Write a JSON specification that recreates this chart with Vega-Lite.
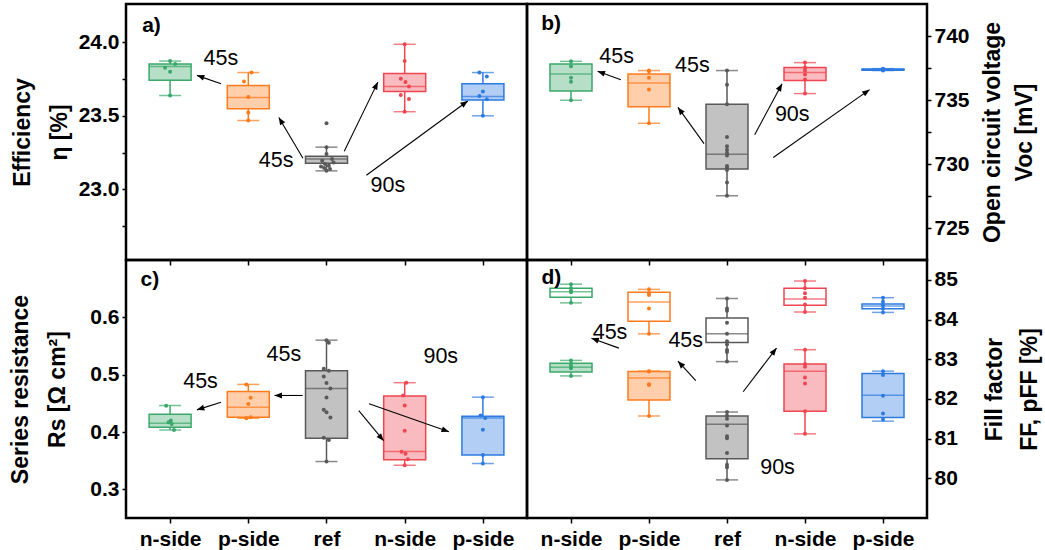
{
  "$schema": "https://vega.github.io/schema/vega-lite/v6.json",
  "padding": {"left": 7, "top": 2, "right": 4, "bottom": 0},
  "autosize": {"type": "pad"},
  "background": "white",
  "config": {
    "font": "Liberation Sans",
    "view": {"stroke": "black", "strokeWidth": 2.5},
    "axis": {"domain": false, "grid": false, "tickColor": "black", "tickWidth": 1.5, "tickSize": 5, "labelFont": "Liberation Sans", "labelFontSize": 21, "labelFontWeight": "bold", "labelColor": "black", "titleFont": "Liberation Sans", "titleFontSize": 23, "titleFontWeight": "bold", "titleColor": "black", "titleLineHeight": 34, "labelPadding": 3}
  },
  "datasets": {
    "boxes": [
      {"p":"a","g":"n45","x":1,"f":"filled","lo":23.638,"q1":23.741,"med":23.835,"q3":23.853,"hi":23.872},
      {"p":"a","g":"p45","x":2,"f":"filled","lo":23.468,"q1":23.548,"med":23.624,"q3":23.706,"hi":23.794},
      {"p":"a","g":"ref","x":3,"f":"filled","lo":23.126,"q1":23.177,"med":23.206,"q3":23.225,"hi":23.287},
      {"p":"a","g":"n90","x":4,"f":"filled","lo":23.528,"q1":23.665,"med":23.70,"q3":23.787,"hi":23.986},
      {"p":"a","g":"p90","x":5,"f":"filled","lo":23.50,"q1":23.608,"med":23.631,"q3":23.718,"hi":23.794},
      {"p":"b","g":"n45","x":1,"f":"filled","lo":734.98,"q1":735.70,"med":737.04,"q3":737.81,"hi":738.02},
      {"p":"b","g":"p45","x":2,"f":"filled","lo":733.18,"q1":734.47,"med":736.32,"q3":737.04,"hi":737.30},
      {"p":"b","g":"ref","x":3,"f":"filled","lo":727.52,"q1":729.61,"med":730.76,"q3":734.67,"hi":737.30},
      {"p":"b","g":"n90","x":4,"f":"filled","lo":735.50,"q1":736.53,"med":737.14,"q3":737.53,"hi":737.92},
      {"p":"b","g":"p90","x":5,"f":"filled","lo":737.30,"q1":737.33,"med":737.38,"q3":737.43,"hi":737.45},
      {"p":"c","g":"n45","x":1,"f":"filled","lo":0.4035,"q1":0.4082,"med":0.4152,"q3":0.431,"hi":0.4462},
      {"p":"c","g":"p45","x":2,"f":"filled","lo":0.424,"q1":0.4257,"med":0.4433,"q3":0.4708,"hi":0.483},
      {"p":"c","g":"ref","x":3,"f":"filled","lo":0.3485,"q1":0.3889,"med":0.476,"q3":0.507,"hi":0.5602},
      {"p":"c","g":"n90","x":4,"f":"filled","lo":0.342,"q1":0.3515,"med":0.366,"q3":0.4626,"hi":0.486},
      {"p":"c","g":"p90","x":5,"f":"filled","lo":0.345,"q1":0.3597,"med":0.4246,"q3":0.4275,"hi":0.4608},
      {"p":"d","g":"n45","x":1,"f":"open","lo":84.42,"q1":84.56,"med":84.70,"q3":84.79,"hi":84.89},
      {"p":"d","g":"n45","x":1,"f":"filled","lo":82.58,"q1":82.68,"med":82.80,"q3":82.90,"hi":82.97},
      {"p":"d","g":"p45","x":2,"f":"open","lo":83.64,"q1":83.96,"med":84.44,"q3":84.69,"hi":84.76},
      {"p":"d","g":"p45","x":2,"f":"filled","lo":81.57,"q1":81.97,"med":82.53,"q3":82.69,"hi":82.70},
      {"p":"d","g":"ref","x":3,"f":"open","lo":82.94,"q1":83.42,"med":83.64,"q3":84.04,"hi":84.53},
      {"p":"d","g":"ref","x":3,"f":"filled","lo":79.96,"q1":80.49,"med":81.36,"q3":81.57,"hi":81.67},
      {"p":"d","g":"n90","x":4,"f":"open","lo":84.19,"q1":84.36,"med":84.52,"q3":84.79,"hi":84.97},
      {"p":"d","g":"n90","x":4,"f":"filled","lo":81.12,"q1":81.69,"med":82.70,"q3":82.88,"hi":83.24},
      {"p":"d","g":"p90","x":5,"f":"open","lo":84.18,"q1":84.27,"med":84.34,"q3":84.39,"hi":84.55},
      {"p":"d","g":"p90","x":5,"f":"filled","lo":81.44,"q1":81.53,"med":82.09,"q3":82.64,"hi":82.70}
    ],
    "pts": [
      {"p":"a","g":"n45","x":1,"v":23.872},{"p":"a","g":"n45","x":1.065,"v":23.853},{"p":"a","g":"n45","x":0.935,"v":23.826},{"p":"a","g":"n45","x":1,"v":23.80},{"p":"a","g":"n45","x":1,"v":23.638},
      {"p":"a","g":"p45","x":2.04,"v":23.794},{"p":"a","g":"p45","x":1.945,"v":23.734},{"p":"a","g":"p45","x":2,"v":23.628},{"p":"a","g":"p45","x":2,"v":23.523},{"p":"a","g":"p45","x":2,"v":23.468},
      {"p":"a","g":"ref","x":3,"v":23.45},{"p":"a","g":"ref","x":3,"v":23.287},{"p":"a","g":"ref","x":3,"v":23.24},{"p":"a","g":"ref","x":3.07,"v":23.206},{"p":"a","g":"ref","x":2.945,"v":23.195},{"p":"a","g":"ref","x":3.09,"v":23.183},{"p":"a","g":"ref","x":2.98,"v":23.172},{"p":"a","g":"ref","x":3.03,"v":23.16},{"p":"a","g":"ref","x":2.93,"v":23.156},{"p":"a","g":"ref","x":2.97,"v":23.145},{"p":"a","g":"ref","x":3.045,"v":23.138},{"p":"a","g":"ref","x":3,"v":23.126},
      {"p":"a","g":"n90","x":4,"v":23.986},{"p":"a","g":"n90","x":4,"v":23.872},{"p":"a","g":"n90","x":3.95,"v":23.752},{"p":"a","g":"n90","x":4.01,"v":23.73},{"p":"a","g":"n90","x":4.055,"v":23.70},{"p":"a","g":"n90","x":3.95,"v":23.642},{"p":"a","g":"n90","x":4.055,"v":23.615},{"p":"a","g":"n90","x":4,"v":23.528},
      {"p":"a","g":"p90","x":4.955,"v":23.794},{"p":"a","g":"p90","x":5.05,"v":23.768},{"p":"a","g":"p90","x":5,"v":23.665},{"p":"a","g":"p90","x":4.955,"v":23.635},{"p":"a","g":"p90","x":5.05,"v":23.612},{"p":"a","g":"p90","x":5,"v":23.50},
      {"p":"b","g":"n45","x":1,"v":738.02},{"p":"b","g":"n45","x":1,"v":737.63},{"p":"b","g":"n45","x":1,"v":736.73},{"p":"b","g":"n45","x":1,"v":736.42},{"p":"b","g":"n45","x":1,"v":734.98},
      {"p":"b","g":"p45","x":2,"v":737.3},{"p":"b","g":"p45","x":2,"v":737.25},{"p":"b","g":"p45","x":2,"v":736.73},{"p":"b","g":"p45","x":2,"v":735.83},{"p":"b","g":"p45","x":2,"v":733.18},
      {"p":"b","g":"ref","x":3,"v":737.3},{"p":"b","g":"ref","x":3,"v":736.19},{"p":"b","g":"ref","x":3,"v":734.67},{"p":"b","g":"ref","x":3,"v":732.1},{"p":"b","g":"ref","x":3,"v":731.38},{"p":"b","g":"ref","x":3,"v":731.12},{"p":"b","g":"ref","x":3,"v":730.87},{"p":"b","g":"ref","x":3,"v":730.66},{"p":"b","g":"ref","x":3,"v":729.84},{"p":"b","g":"ref","x":3,"v":729.71},{"p":"b","g":"ref","x":3,"v":729.53},{"p":"b","g":"ref","x":3,"v":728.55},{"p":"b","g":"ref","x":3,"v":727.52},
      {"p":"b","g":"n90","x":4,"v":737.92},{"p":"b","g":"n90","x":4,"v":737.53},{"p":"b","g":"n90","x":4,"v":737.3},{"p":"b","g":"n90","x":4,"v":736.99},{"p":"b","g":"n90","x":4,"v":736.6},{"p":"b","g":"n90","x":4,"v":735.5},
      {"p":"b","g":"p90","x":5,"v":737.45},{"p":"b","g":"p90","x":5,"v":737.4},{"p":"b","g":"p90","x":5,"v":737.38},{"p":"b","g":"p90","x":5,"v":737.35},{"p":"b","g":"p90","x":5,"v":737.3},
      {"p":"c","g":"n45","x":0.95,"v":0.446},{"p":"c","g":"n45","x":1.01,"v":0.42},{"p":"c","g":"n45","x":0.98,"v":0.417},{"p":"c","g":"n45","x":1.02,"v":0.414},{"p":"c","g":"n45","x":1.05,"v":0.4035},
      {"p":"c","g":"p45","x":1.975,"v":0.483},{"p":"c","g":"p45","x":2.03,"v":0.4596},{"p":"c","g":"p45","x":2,"v":0.449},{"p":"c","g":"p45","x":2.03,"v":0.4257},{"p":"c","g":"p45","x":1.975,"v":0.424},
      {"p":"c","g":"ref","x":3,"v":0.56},{"p":"c","g":"ref","x":3.03,"v":0.5556},{"p":"c","g":"ref","x":2.965,"v":0.5105},{"p":"c","g":"ref","x":3.03,"v":0.507},{"p":"c","g":"ref","x":2.965,"v":0.497},{"p":"c","g":"ref","x":3,"v":0.4854},{"p":"c","g":"ref","x":3.05,"v":0.476},{"p":"c","g":"ref","x":3,"v":0.4602},{"p":"c","g":"ref","x":2.965,"v":0.4386},{"p":"c","g":"ref","x":3,"v":0.4345},{"p":"c","g":"ref","x":3.05,"v":0.4251},{"p":"c","g":"ref","x":2.965,"v":0.39},{"p":"c","g":"ref","x":3.03,"v":0.386},{"p":"c","g":"ref","x":3,"v":0.3485},
      {"p":"c","g":"n90","x":4.02,"v":0.486},{"p":"c","g":"n90","x":3.98,"v":0.4637},{"p":"c","g":"n90","x":4,"v":0.4462},{"p":"c","g":"n90","x":4,"v":0.4023},{"p":"c","g":"n90","x":3.96,"v":0.3655},{"p":"c","g":"n90","x":4.01,"v":0.362},{"p":"c","g":"n90","x":4.04,"v":0.3526},{"p":"c","g":"n90","x":4,"v":0.342},
      {"p":"c","g":"p90","x":5,"v":0.4608},{"p":"c","g":"p90","x":4.97,"v":0.4287},{"p":"c","g":"p90","x":5.03,"v":0.4246},{"p":"c","g":"p90","x":5,"v":0.404},{"p":"c","g":"p90","x":5,"v":0.3597},{"p":"c","g":"p90","x":5,"v":0.345},
      {"p":"d","g":"n45","x":1,"v":84.89},{"p":"d","g":"n45","x":1,"v":84.79},{"p":"d","g":"n45","x":1,"v":84.72},{"p":"d","g":"n45","x":1,"v":84.69},{"p":"d","g":"n45","x":1,"v":84.42},
      {"p":"d","g":"n45","x":1,"v":82.97},{"p":"d","g":"n45","x":1,"v":82.88},{"p":"d","g":"n45","x":1,"v":82.82},{"p":"d","g":"n45","x":1,"v":82.77},{"p":"d","g":"n45","x":1,"v":82.58},
      {"p":"d","g":"p45","x":2,"v":84.76},{"p":"d","g":"p45","x":2,"v":84.66},{"p":"d","g":"p45","x":2,"v":84.62},{"p":"d","g":"p45","x":2,"v":84.28},{"p":"d","g":"p45","x":2,"v":83.64},
      {"p":"d","g":"p45","x":2,"v":82.70},{"p":"d","g":"p45","x":2,"v":82.69},{"p":"d","g":"p45","x":2,"v":82.37},{"p":"d","g":"p45","x":2,"v":82.35},{"p":"d","g":"p45","x":2,"v":81.57},
      {"p":"d","g":"ref","x":3,"v":84.53},{"p":"d","g":"ref","x":3,"v":84.28},{"p":"d","g":"ref","x":3,"v":84.22},{"p":"d","g":"ref","x":3,"v":83.92},{"p":"d","g":"ref","x":3,"v":83.64},{"p":"d","g":"ref","x":3,"v":83.45},{"p":"d","g":"ref","x":3,"v":83.37},{"p":"d","g":"ref","x":3,"v":83.23},{"p":"d","g":"ref","x":3,"v":83.18},{"p":"d","g":"ref","x":3,"v":82.94},
      {"p":"d","g":"ref","x":3,"v":81.67},{"p":"d","g":"ref","x":3,"v":81.58},{"p":"d","g":"ref","x":3,"v":81.50},{"p":"d","g":"ref","x":3,"v":81.33},{"p":"d","g":"ref","x":3,"v":81.06},{"p":"d","g":"ref","x":3,"v":81.01},{"p":"d","g":"ref","x":3,"v":80.64},{"p":"d","g":"ref","x":3,"v":80.34},{"p":"d","g":"ref","x":3,"v":80.28},{"p":"d","g":"ref","x":3,"v":79.96},
      {"p":"d","g":"n90","x":4,"v":84.97},{"p":"d","g":"n90","x":4,"v":84.79},{"p":"d","g":"n90","x":4,"v":84.66},{"p":"d","g":"n90","x":4,"v":84.55},{"p":"d","g":"n90","x":4,"v":84.38},{"p":"d","g":"n90","x":4,"v":84.19},
      {"p":"d","g":"n90","x":4,"v":83.24},{"p":"d","g":"n90","x":4,"v":82.88},{"p":"d","g":"n90","x":4,"v":82.81},{"p":"d","g":"n90","x":4,"v":82.54},{"p":"d","g":"n90","x":4,"v":82.39},{"p":"d","g":"n90","x":4,"v":81.69},{"p":"d","g":"n90","x":4,"v":81.12},
      {"p":"d","g":"p90","x":5,"v":84.55},{"p":"d","g":"p90","x":5,"v":84.45},{"p":"d","g":"p90","x":5,"v":84.36},{"p":"d","g":"p90","x":5,"v":84.28},{"p":"d","g":"p90","x":5,"v":84.18},
      {"p":"d","g":"p90","x":5,"v":82.70},{"p":"d","g":"p90","x":5,"v":82.60},{"p":"d","g":"p90","x":5,"v":82.08},{"p":"d","g":"p90","x":5,"v":81.63},{"p":"d","g":"p90","x":5,"v":81.48}
    ],
    "arrows": [
      {"p":"a","x":1.651,"y":23.718,"x2":1.3425,"y2":23.775},
      {"p":"a","x":2.699,"y":23.211,"x2":2.39,"y2":23.489},
      {"p":"a","x":3.227,"y":23.259,"x2":3.657,"y2":23.729},
      {"p":"a","x":3.51,"y":23.096,"x2":4.807,"y2":23.601},
      {"p":"b","x":1.639,"y":736.58,"x2":1.341,"y2":737.25},
      {"p":"b","x":2.706,"y":731.59,"x2":2.371,"y2":734.42},
      {"p":"b","x":3.355,"y":732.28,"x2":3.706,"y2":736.27},
      {"p":"b","x":3.593,"y":730.51,"x2":4.828,"y2":735.81},
      {"p":"c","x":1.651,"y":0.452,"x2":1.3425,"y2":0.4386},
      {"p":"c","x":2.695,"y":0.4637,"x2":2.335,"y2":0.4637},
      {"p":"c","x":3.4125,"y":0.4374,"x2":3.73,"y2":0.3848},
      {"p":"c","x":3.544,"y":0.4491,"x2":4.566,"y2":0.4006},
      {"p":"d","x":1.614,"y":83.28,"x2":1.2625,"y2":83.53},
      {"p":"d","x":2.6,"y":82.46,"x2":2.371,"y2":82.95},
      {"p":"d","x":3.2075,"y":82.18,"x2":3.635,"y2":83.28}
    ],
    "notes": [
      {"p":"a","t":"45s","x":1.65,"y":23.883},{"p":"a","t":"45s","x":2.356,"y":23.195},{"p":"a","t":"90s","x":3.785,"y":23.023},
      {"p":"b","t":"45s","x":1.584,"y":738.33},{"p":"b","t":"45s","x":2.555,"y":737.63},{"p":"b","t":"90s","x":3.836,"y":733.83},
      {"p":"c","t":"45s","x":1.389,"y":0.4871},{"p":"c","t":"45s","x":2.454,"y":0.5339},{"p":"c","t":"90s","x":4.461,"y":0.531},
      {"p":"d","t":"45s","x":1.5,"y":83.67},{"p":"d","t":"45s","x":2.471,"y":83.46},{"p":"d","t":"90s","x":3.6475,"y":80.25}
    ],
    "tags": [
      {"p":"a","t":"a)","x":0.7625,"y":24.112},
      {"p":"b","t":"b)","x":0.746,"y":740.92},
      {"p":"c","t":"c)","x":0.7425,"y":0.6646},
      {"p":"d","t":"d)","x":0.7475,"y":85.04}
    ]
  },
  "columns": 2,
  "spacing": 0,
  "bounds": "flush",
  "concat": [
        {
          "width": 401, "height": 256,
          "layer": [
            {"data":{"name":"boxes"},"transform":[{"filter":"datum.p=='a'"}],"mark":{"type":"rule","strokeWidth":1.5},
             "encoding":{
               "x":{"field":"x","type":"quantitative","scale":{"domain":[0.5,5.5],"nice":false,"zero":false},"axis":{"values":[1,2,3,4,5],"labels":false,"title":null}},
               "y":{"field":"hi","type":"quantitative","scale":{"domain":[22.52,24.26],"nice":false,"zero":false},"axis":{"orient":"left","values":[22.75,23,23.25,23.5,23.75,24],"labelExpr":"(datum.value*2)%1==0 ? format(datum.value,'.1f') : ''","tickSize":4,"title":["Efficiency","η [%]"],"titleAngle":270,"titleX":-104,"titleLineHeight":37,"titleBaseline":"middle","titleAlign":"center"}},
               "y2":{"field":"q3"},
               "color":{"field":"g","type":"nominal","scale":{"domain":["n45","p45","ref","n90","p90"],"range":["#3ba86b","#ff7b1c","#595959","#ef4651","#2d7be1"]},"legend":null}}},
            {"data":{"name":"boxes"},"transform":[{"filter":"datum.p=='a'"}],"mark":{"type":"rule","strokeWidth":1.5},
             "encoding":{"x":{"field":"x","type":"quantitative"},"y":{"field":"lo","type":"quantitative"},"y2":{"field":"q1"},
               "color":{"field":"g","type":"nominal","scale":{"domain":["n45","p45","ref","n90","p90"],"range":["#3ba86b","#ff7b1c","#595959","#ef4651","#2d7be1"]},"legend":null}}},
            {"data":{"name":"boxes"},"transform":[{"filter":"datum.p=='a'"}],"mark":{"type":"bar","width":42,"strokeWidth":1.5},
             "encoding":{"x":{"field":"x","type":"quantitative"},"y":{"field":"q1","type":"quantitative"},"y2":{"field":"q3"},
               "fill":{"field":"g","type":"nominal","scale":{"domain":["n45","p45","ref","n90","p90"],"range":["#3ba86b","#ff7b1c","#595959","#ef4651","#2d7be1"]},"legend":null},
               "stroke":{"field":"g","type":"nominal","scale":{"domain":["n45","p45","ref","n90","p90"],"range":["#3ba86b","#ff7b1c","#595959","#ef4651","#2d7be1"]},"legend":null},
               "fillOpacity":{"field":"f","type":"nominal","scale":{"domain":["filled","open"],"range":[0.37,0]},"legend":null}}},
            {"data":{"name":"boxes"},"transform":[{"filter":"datum.p=='a'"}],"mark":{"type":"tick","orient":"horizontal","size":42,"thickness":1.5},
             "encoding":{"x":{"field":"x","type":"quantitative"},"y":{"field":"med","type":"quantitative"},
               "color":{"field":"g","type":"nominal","scale":{"domain":["n45","p45","ref","n90","p90"],"range":["#3ba86b","#ff7b1c","#595959","#ef4651","#2d7be1"]},"legend":null}}},
            {"data":{"name":"boxes"},"transform":[{"filter":"datum.p=='a'"}],"mark":{"type":"tick","orient":"horizontal","size":22,"thickness":1.5},
             "encoding":{"x":{"field":"x","type":"quantitative"},"y":{"field":"hi","type":"quantitative"},
               "color":{"field":"g","type":"nominal","scale":{"domain":["n45","p45","ref","n90","p90"],"range":["#3ba86b","#ff7b1c","#595959","#ef4651","#2d7be1"]},"legend":null}}},
            {"data":{"name":"boxes"},"transform":[{"filter":"datum.p=='a'"}],"mark":{"type":"tick","orient":"horizontal","size":22,"thickness":1.5},
             "encoding":{"x":{"field":"x","type":"quantitative"},"y":{"field":"lo","type":"quantitative"},
               "color":{"field":"g","type":"nominal","scale":{"domain":["n45","p45","ref","n90","p90"],"range":["#3ba86b","#ff7b1c","#595959","#ef4651","#2d7be1"]},"legend":null}}},
            {"data":{"name":"pts"},"transform":[{"filter":"datum.p=='a'"}],"mark":{"type":"point","filled":true,"size":16,"opacity":1},
             "encoding":{"x":{"field":"x","type":"quantitative"},"y":{"field":"v","type":"quantitative"},
               "color":{"field":"g","type":"nominal","scale":{"domain":["n45","p45","ref","n90","p90"],"range":["#3ba86b","#ff7b1c","#595959","#ef4651","#2d7be1"]},"legend":null}}},
            {"data":{"name":"arrows"},"transform":[{"filter":"datum.p=='a'"}],"mark":{"type":"rule","strokeWidth":1.1,"color":"black"},
             "encoding":{"x":{"field":"x","type":"quantitative"},"y":{"field":"y","type":"quantitative"},"x2":{"field":"x2"},"y2":{"field":"y2"}}},
            {"data":{"name":"arrows"},"transform":[{"filter":"datum.p=='a'"},{"calculate":"atan2((datum.x2-datum.x)*80,(datum.y2-datum.y)*147.1)*180/PI","as":"ang"}],"mark":{"type":"point","filled":true,"color":"black","opacity":1,"shape":"M0,0L-0.4,1L0.4,1Z","size":220},
             "encoding":{"x":{"field":"x2","type":"quantitative"},"y":{"field":"y2","type":"quantitative"},"angle":{"field":"ang","type":"quantitative","scale":null}}},
            {"data":{"name":"notes"},"transform":[{"filter":"datum.p=='a'"}],"mark":{"type":"text","fontSize":21.5,"color":"black","align":"center","baseline":"middle"},
             "encoding":{"x":{"field":"x","type":"quantitative"},"y":{"field":"y","type":"quantitative"},"text":{"field":"t"}}},
            {"data":{"name":"tags"},"transform":[{"filter":"datum.p=='a'"}],"mark":{"type":"text","fontSize":21,"fontWeight":"bold","color":"black","align":"center","baseline":"middle"},
             "encoding":{"x":{"field":"x","type":"quantitative"},"y":{"field":"y","type":"quantitative"},"text":{"field":"t"}}}
          ]
        },
        {
          "width": 400, "height": 256,
          "layer": [
            {"data":{"name":"boxes"},"transform":[{"filter":"datum.p=='b'"}],"mark":{"type":"rule","strokeWidth":1.5},
             "encoding":{
               "x":{"field":"x","type":"quantitative","scale":{"domain":[0.5,5.5],"nice":false,"zero":false},"axis":{"values":[1,2,3,4,5],"labels":false,"title":null}},
               "y":{"field":"hi","type":"quantitative","scale":{"domain":[722.5,742.5],"nice":false,"zero":false},"axis":{"orient":"right","values":[725,727.5,730,732.5,735,737.5,740],"labelExpr":"datum.value%5==0 ? format(datum.value,'d') : ''","tickSize":4,"title":["Open circuit voltage","Voc [mV]"],"titleAngle":270,"titleX":65,"titleLineHeight":32,"titleBaseline":"middle","titleAlign":"center"}},
               "y2":{"field":"q3"},
               "color":{"field":"g","type":"nominal","scale":{"domain":["n45","p45","ref","n90","p90"],"range":["#3ba86b","#ff7b1c","#595959","#ef4651","#2d7be1"]},"legend":null}}},
            {"data":{"name":"boxes"},"transform":[{"filter":"datum.p=='b'"}],"mark":{"type":"rule","strokeWidth":1.5},
             "encoding":{"x":{"field":"x","type":"quantitative"},"y":{"field":"lo","type":"quantitative"},"y2":{"field":"q1"},
               "color":{"field":"g","type":"nominal","scale":{"domain":["n45","p45","ref","n90","p90"],"range":["#3ba86b","#ff7b1c","#595959","#ef4651","#2d7be1"]},"legend":null}}},
            {"data":{"name":"boxes"},"transform":[{"filter":"datum.p=='b'"}],"mark":{"type":"bar","width":42,"strokeWidth":1.5},
             "encoding":{"x":{"field":"x","type":"quantitative"},"y":{"field":"q1","type":"quantitative"},"y2":{"field":"q3"},
               "fill":{"field":"g","type":"nominal","scale":{"domain":["n45","p45","ref","n90","p90"],"range":["#3ba86b","#ff7b1c","#595959","#ef4651","#2d7be1"]},"legend":null},
               "stroke":{"field":"g","type":"nominal","scale":{"domain":["n45","p45","ref","n90","p90"],"range":["#3ba86b","#ff7b1c","#595959","#ef4651","#2d7be1"]},"legend":null},
               "fillOpacity":{"field":"f","type":"nominal","scale":{"domain":["filled","open"],"range":[0.37,0]},"legend":null}}},
            {"data":{"name":"boxes"},"transform":[{"filter":"datum.p=='b'"}],"mark":{"type":"tick","orient":"horizontal","size":42,"thickness":1.5},
             "encoding":{"x":{"field":"x","type":"quantitative"},"y":{"field":"med","type":"quantitative"},
               "color":{"field":"g","type":"nominal","scale":{"domain":["n45","p45","ref","n90","p90"],"range":["#3ba86b","#ff7b1c","#595959","#ef4651","#2d7be1"]},"legend":null}}},
            {"data":{"name":"boxes"},"transform":[{"filter":"datum.p=='b'"}],"mark":{"type":"tick","orient":"horizontal","size":22,"thickness":1.5},
             "encoding":{"x":{"field":"x","type":"quantitative"},"y":{"field":"hi","type":"quantitative"},
               "color":{"field":"g","type":"nominal","scale":{"domain":["n45","p45","ref","n90","p90"],"range":["#3ba86b","#ff7b1c","#595959","#ef4651","#2d7be1"]},"legend":null}}},
            {"data":{"name":"boxes"},"transform":[{"filter":"datum.p=='b'"}],"mark":{"type":"tick","orient":"horizontal","size":22,"thickness":1.5},
             "encoding":{"x":{"field":"x","type":"quantitative"},"y":{"field":"lo","type":"quantitative"},
               "color":{"field":"g","type":"nominal","scale":{"domain":["n45","p45","ref","n90","p90"],"range":["#3ba86b","#ff7b1c","#595959","#ef4651","#2d7be1"]},"legend":null}}},
            {"data":{"name":"pts"},"transform":[{"filter":"datum.p=='b'"}],"mark":{"type":"point","filled":true,"size":16,"opacity":1},
             "encoding":{"x":{"field":"x","type":"quantitative"},"y":{"field":"v","type":"quantitative"},
               "color":{"field":"g","type":"nominal","scale":{"domain":["n45","p45","ref","n90","p90"],"range":["#3ba86b","#ff7b1c","#595959","#ef4651","#2d7be1"]},"legend":null}}},
            {"data":{"name":"arrows"},"transform":[{"filter":"datum.p=='b'"}],"mark":{"type":"rule","strokeWidth":1.1,"color":"black"},
             "encoding":{"x":{"field":"x","type":"quantitative"},"y":{"field":"y","type":"quantitative"},"x2":{"field":"x2"},"y2":{"field":"y2"}}},
            {"data":{"name":"arrows"},"transform":[{"filter":"datum.p=='b'"},{"calculate":"atan2((datum.x2-datum.x)*80,(datum.y2-datum.y)*12.8)*180/PI","as":"ang"}],"mark":{"type":"point","filled":true,"color":"black","opacity":1,"shape":"M0,0L-0.4,1L0.4,1Z","size":220},
             "encoding":{"x":{"field":"x2","type":"quantitative"},"y":{"field":"y2","type":"quantitative"},"angle":{"field":"ang","type":"quantitative","scale":null}}},
            {"data":{"name":"notes"},"transform":[{"filter":"datum.p=='b'"}],"mark":{"type":"text","fontSize":21.5,"color":"black","align":"center","baseline":"middle"},
             "encoding":{"x":{"field":"x","type":"quantitative"},"y":{"field":"y","type":"quantitative"},"text":{"field":"t"}}},
            {"data":{"name":"tags"},"transform":[{"filter":"datum.p=='b'"}],"mark":{"type":"text","fontSize":21,"fontWeight":"bold","color":"black","align":"center","baseline":"middle"},
             "encoding":{"x":{"field":"x","type":"quantitative"},"y":{"field":"y","type":"quantitative"},"text":{"field":"t"}}}
          ]
        },
        {
          "width": 401, "height": 258,
          "layer": [
            {"data":{"name":"boxes"},"transform":[{"filter":"datum.p=='c'"}],"mark":{"type":"rule","strokeWidth":1.5},
             "encoding":{
               "x":{"field":"x","type":"quantitative","scale":{"domain":[0.5,5.5],"nice":false,"zero":false},"axis":{"values":[1,2,3,4,5],"labelExpr":"['n-side','p-side','ref','n-side','p-side'][datum.value-1]","labelPadding":5,"title":null}},
               "y":{"field":"hi","type":"quantitative","scale":{"domain":[0.25,0.70],"nice":false,"zero":false},"axis":{"orient":"left","values":[0.3,0.4,0.5,0.6],"format":".1f","tickSize":4,"title":["Series resistance","Rs [Ω cm²]"],"titleAngle":270,"titleX":-106,"titleLineHeight":37,"titleBaseline":"middle","titleAlign":"center"}},
               "y2":{"field":"q3"},
               "color":{"field":"g","type":"nominal","scale":{"domain":["n45","p45","ref","n90","p90"],"range":["#3ba86b","#ff7b1c","#595959","#ef4651","#2d7be1"]},"legend":null}}},
            {"data":{"name":"boxes"},"transform":[{"filter":"datum.p=='c'"}],"mark":{"type":"rule","strokeWidth":1.5},
             "encoding":{"x":{"field":"x","type":"quantitative"},"y":{"field":"lo","type":"quantitative"},"y2":{"field":"q1"},
               "color":{"field":"g","type":"nominal","scale":{"domain":["n45","p45","ref","n90","p90"],"range":["#3ba86b","#ff7b1c","#595959","#ef4651","#2d7be1"]},"legend":null}}},
            {"data":{"name":"boxes"},"transform":[{"filter":"datum.p=='c'"}],"mark":{"type":"bar","width":42,"strokeWidth":1.5},
             "encoding":{"x":{"field":"x","type":"quantitative"},"y":{"field":"q1","type":"quantitative"},"y2":{"field":"q3"},
               "fill":{"field":"g","type":"nominal","scale":{"domain":["n45","p45","ref","n90","p90"],"range":["#3ba86b","#ff7b1c","#595959","#ef4651","#2d7be1"]},"legend":null},
               "stroke":{"field":"g","type":"nominal","scale":{"domain":["n45","p45","ref","n90","p90"],"range":["#3ba86b","#ff7b1c","#595959","#ef4651","#2d7be1"]},"legend":null},
               "fillOpacity":{"field":"f","type":"nominal","scale":{"domain":["filled","open"],"range":[0.37,0]},"legend":null}}},
            {"data":{"name":"boxes"},"transform":[{"filter":"datum.p=='c'"}],"mark":{"type":"tick","orient":"horizontal","size":42,"thickness":1.5},
             "encoding":{"x":{"field":"x","type":"quantitative"},"y":{"field":"med","type":"quantitative"},
               "color":{"field":"g","type":"nominal","scale":{"domain":["n45","p45","ref","n90","p90"],"range":["#3ba86b","#ff7b1c","#595959","#ef4651","#2d7be1"]},"legend":null}}},
            {"data":{"name":"boxes"},"transform":[{"filter":"datum.p=='c'"}],"mark":{"type":"tick","orient":"horizontal","size":22,"thickness":1.5},
             "encoding":{"x":{"field":"x","type":"quantitative"},"y":{"field":"hi","type":"quantitative"},
               "color":{"field":"g","type":"nominal","scale":{"domain":["n45","p45","ref","n90","p90"],"range":["#3ba86b","#ff7b1c","#595959","#ef4651","#2d7be1"]},"legend":null}}},
            {"data":{"name":"boxes"},"transform":[{"filter":"datum.p=='c'"}],"mark":{"type":"tick","orient":"horizontal","size":22,"thickness":1.5},
             "encoding":{"x":{"field":"x","type":"quantitative"},"y":{"field":"lo","type":"quantitative"},
               "color":{"field":"g","type":"nominal","scale":{"domain":["n45","p45","ref","n90","p90"],"range":["#3ba86b","#ff7b1c","#595959","#ef4651","#2d7be1"]},"legend":null}}},
            {"data":{"name":"pts"},"transform":[{"filter":"datum.p=='c'"}],"mark":{"type":"point","filled":true,"size":16,"opacity":1},
             "encoding":{"x":{"field":"x","type":"quantitative"},"y":{"field":"v","type":"quantitative"},
               "color":{"field":"g","type":"nominal","scale":{"domain":["n45","p45","ref","n90","p90"],"range":["#3ba86b","#ff7b1c","#595959","#ef4651","#2d7be1"]},"legend":null}}},
            {"data":{"name":"arrows"},"transform":[{"filter":"datum.p=='c'"}],"mark":{"type":"rule","strokeWidth":1.1,"color":"black"},
             "encoding":{"x":{"field":"x","type":"quantitative"},"y":{"field":"y","type":"quantitative"},"x2":{"field":"x2"},"y2":{"field":"y2"}}},
            {"data":{"name":"arrows"},"transform":[{"filter":"datum.p=='c'"},{"calculate":"atan2((datum.x2-datum.x)*80,(datum.y2-datum.y)*573.3)*180/PI","as":"ang"}],"mark":{"type":"point","filled":true,"color":"black","opacity":1,"shape":"M0,0L-0.4,1L0.4,1Z","size":220},
             "encoding":{"x":{"field":"x2","type":"quantitative"},"y":{"field":"y2","type":"quantitative"},"angle":{"field":"ang","type":"quantitative","scale":null}}},
            {"data":{"name":"notes"},"transform":[{"filter":"datum.p=='c'"}],"mark":{"type":"text","fontSize":21.5,"color":"black","align":"center","baseline":"middle"},
             "encoding":{"x":{"field":"x","type":"quantitative"},"y":{"field":"y","type":"quantitative"},"text":{"field":"t"}}},
            {"data":{"name":"tags"},"transform":[{"filter":"datum.p=='c'"}],"mark":{"type":"text","fontSize":21,"fontWeight":"bold","color":"black","align":"center","baseline":"middle"},
             "encoding":{"x":{"field":"x","type":"quantitative"},"y":{"field":"y","type":"quantitative"},"text":{"field":"t"}}}
          ]
        },
        {
          "width": 400, "height": 258,
          "layer": [
            {"data":{"name":"boxes"},"transform":[{"filter":"datum.p=='d'"}],"mark":{"type":"rule","strokeWidth":1.5},
             "encoding":{
               "x":{"field":"x","type":"quantitative","scale":{"domain":[0.5,5.5],"nice":false,"zero":false},"axis":{"values":[1,2,3,4,5],"labelExpr":"['n-side','p-side','ref','n-side','p-side'][datum.value-1]","labelPadding":5,"title":null}},
               "y":{"field":"hi","type":"quantitative","scale":{"domain":[79.0,85.5],"nice":false,"zero":false},"axis":{"orient":"right","values":[80,81,82,83,84,85],"format":"d","tickSize":4,"title":["Fill factor","FF, pFF [%]"],"titleAngle":270,"titleX":67,"titleLineHeight":35,"titleBaseline":"middle","titleAlign":"center"}},
               "y2":{"field":"q3"},
               "color":{"field":"g","type":"nominal","scale":{"domain":["n45","p45","ref","n90","p90"],"range":["#3ba86b","#ff7b1c","#595959","#ef4651","#2d7be1"]},"legend":null}}},
            {"data":{"name":"boxes"},"transform":[{"filter":"datum.p=='d'"}],"mark":{"type":"rule","strokeWidth":1.5},
             "encoding":{"x":{"field":"x","type":"quantitative"},"y":{"field":"lo","type":"quantitative"},"y2":{"field":"q1"},
               "color":{"field":"g","type":"nominal","scale":{"domain":["n45","p45","ref","n90","p90"],"range":["#3ba86b","#ff7b1c","#595959","#ef4651","#2d7be1"]},"legend":null}}},
            {"data":{"name":"boxes"},"transform":[{"filter":"datum.p=='d'"}],"mark":{"type":"bar","width":42,"strokeWidth":1.5},
             "encoding":{"x":{"field":"x","type":"quantitative"},"y":{"field":"q1","type":"quantitative"},"y2":{"field":"q3"},
               "fill":{"field":"g","type":"nominal","scale":{"domain":["n45","p45","ref","n90","p90"],"range":["#3ba86b","#ff7b1c","#595959","#ef4651","#2d7be1"]},"legend":null},
               "stroke":{"field":"g","type":"nominal","scale":{"domain":["n45","p45","ref","n90","p90"],"range":["#3ba86b","#ff7b1c","#595959","#ef4651","#2d7be1"]},"legend":null},
               "fillOpacity":{"field":"f","type":"nominal","scale":{"domain":["filled","open"],"range":[0.37,0]},"legend":null}}},
            {"data":{"name":"boxes"},"transform":[{"filter":"datum.p=='d'"}],"mark":{"type":"tick","orient":"horizontal","size":42,"thickness":1.5},
             "encoding":{"x":{"field":"x","type":"quantitative"},"y":{"field":"med","type":"quantitative"},
               "color":{"field":"g","type":"nominal","scale":{"domain":["n45","p45","ref","n90","p90"],"range":["#3ba86b","#ff7b1c","#595959","#ef4651","#2d7be1"]},"legend":null}}},
            {"data":{"name":"boxes"},"transform":[{"filter":"datum.p=='d'"}],"mark":{"type":"tick","orient":"horizontal","size":22,"thickness":1.5},
             "encoding":{"x":{"field":"x","type":"quantitative"},"y":{"field":"hi","type":"quantitative"},
               "color":{"field":"g","type":"nominal","scale":{"domain":["n45","p45","ref","n90","p90"],"range":["#3ba86b","#ff7b1c","#595959","#ef4651","#2d7be1"]},"legend":null}}},
            {"data":{"name":"boxes"},"transform":[{"filter":"datum.p=='d'"}],"mark":{"type":"tick","orient":"horizontal","size":22,"thickness":1.5},
             "encoding":{"x":{"field":"x","type":"quantitative"},"y":{"field":"lo","type":"quantitative"},
               "color":{"field":"g","type":"nominal","scale":{"domain":["n45","p45","ref","n90","p90"],"range":["#3ba86b","#ff7b1c","#595959","#ef4651","#2d7be1"]},"legend":null}}},
            {"data":{"name":"pts"},"transform":[{"filter":"datum.p=='d'"}],"mark":{"type":"point","filled":true,"size":16,"opacity":1},
             "encoding":{"x":{"field":"x","type":"quantitative"},"y":{"field":"v","type":"quantitative"},
               "color":{"field":"g","type":"nominal","scale":{"domain":["n45","p45","ref","n90","p90"],"range":["#3ba86b","#ff7b1c","#595959","#ef4651","#2d7be1"]},"legend":null}}},
            {"data":{"name":"arrows"},"transform":[{"filter":"datum.p=='d'"}],"mark":{"type":"rule","strokeWidth":1.1,"color":"black"},
             "encoding":{"x":{"field":"x","type":"quantitative"},"y":{"field":"y","type":"quantitative"},"x2":{"field":"x2"},"y2":{"field":"y2"}}},
            {"data":{"name":"arrows"},"transform":[{"filter":"datum.p=='d'"},{"calculate":"atan2((datum.x2-datum.x)*80,(datum.y2-datum.y)*39.7)*180/PI","as":"ang"}],"mark":{"type":"point","filled":true,"color":"black","opacity":1,"shape":"M0,0L-0.4,1L0.4,1Z","size":220},
             "encoding":{"x":{"field":"x2","type":"quantitative"},"y":{"field":"y2","type":"quantitative"},"angle":{"field":"ang","type":"quantitative","scale":null}}},
            {"data":{"name":"notes"},"transform":[{"filter":"datum.p=='d'"}],"mark":{"type":"text","fontSize":21.5,"color":"black","align":"center","baseline":"middle"},
             "encoding":{"x":{"field":"x","type":"quantitative"},"y":{"field":"y","type":"quantitative"},"text":{"field":"t"}}},
            {"data":{"name":"tags"},"transform":[{"filter":"datum.p=='d'"}],"mark":{"type":"text","fontSize":21,"fontWeight":"bold","color":"black","align":"center","baseline":"middle"},
             "encoding":{"x":{"field":"x","type":"quantitative"},"y":{"field":"y","type":"quantitative"},"text":{"field":"t"}}}
          ]
        }
  ]
}
